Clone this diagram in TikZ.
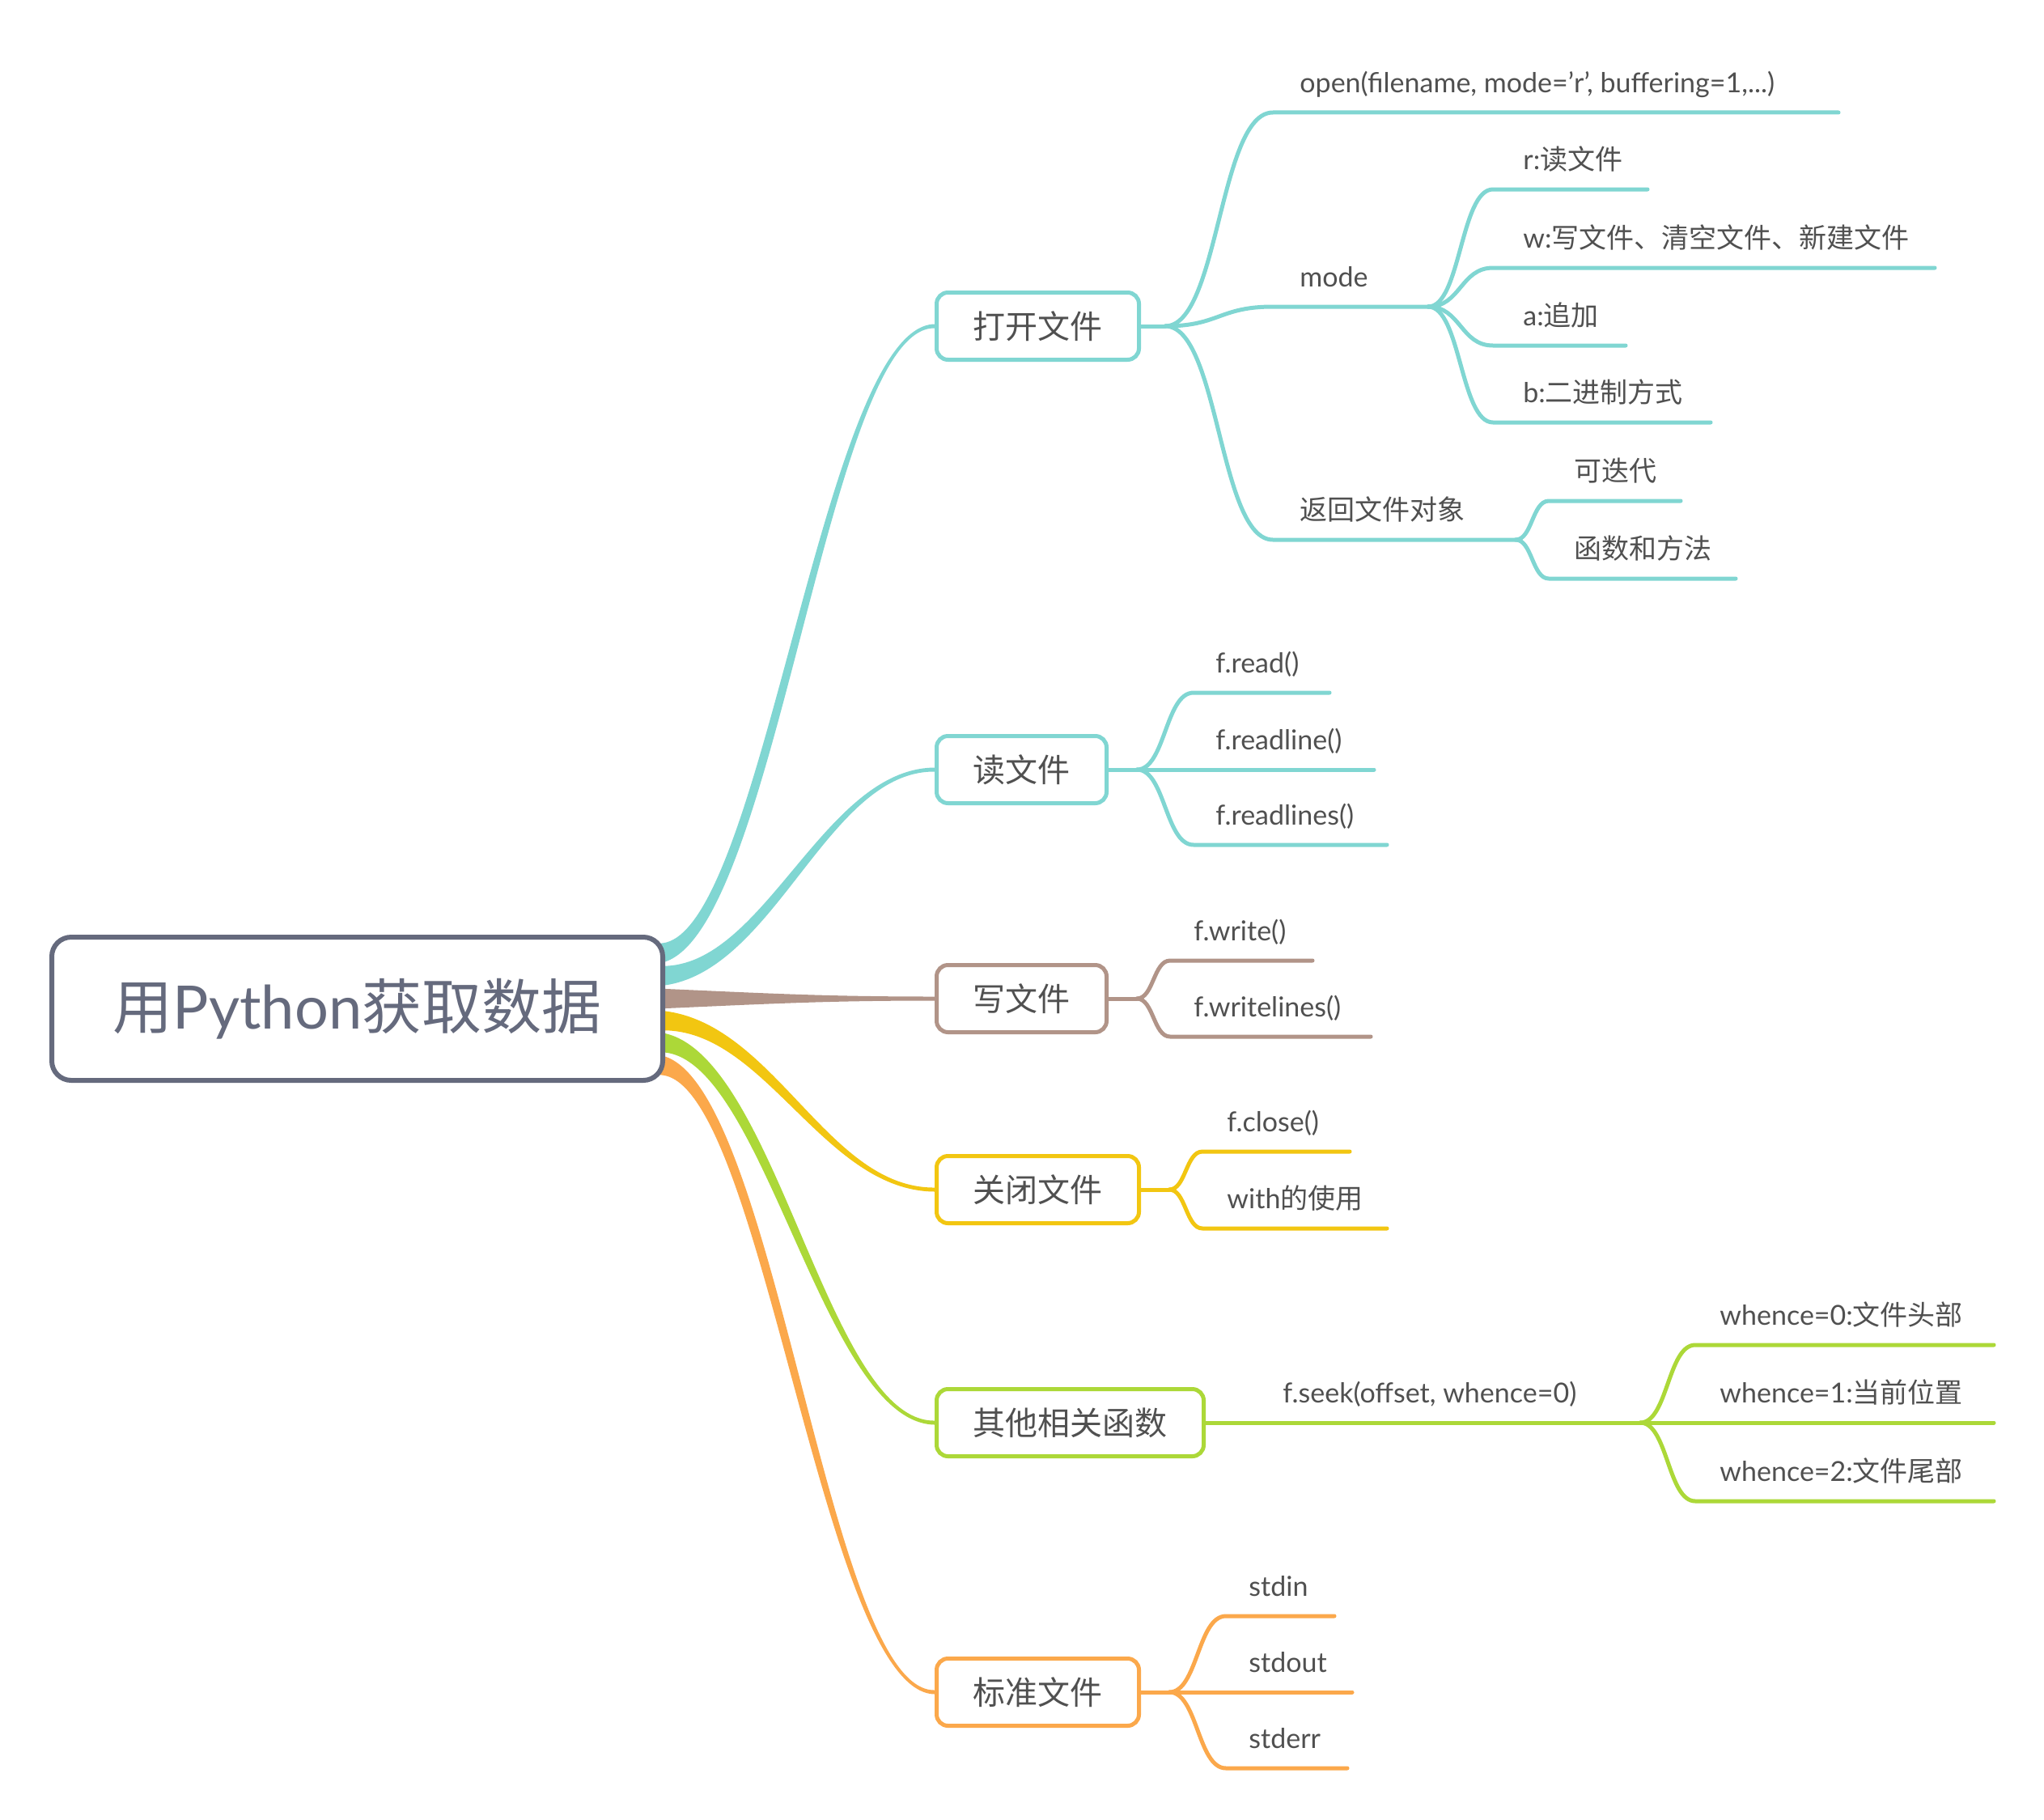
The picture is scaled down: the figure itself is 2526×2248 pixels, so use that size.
\documentclass[tikz,border=0pt]{standalone}
\usepackage{fontspec}
\setmainfont{Lato}
\newfontfamily\cjk{Noto Sans CJK SC}
\usetikzlibrary{calc}
\definecolor{cTeal}{HTML}{80D6D2}
\definecolor{cBrown}{HTML}{B19488}
\definecolor{cYellow}{HTML}{F2C611}
\definecolor{cGreen}{HTML}{ACD838}
\definecolor{cOrange}{HTML}{FBA84B}
\definecolor{cMain}{HTML}{656A7D}
\definecolor{cText}{HTML}{505050}
\pgfdeclarelayer{bg}
\pgfsetlayers{bg,main}
\tikzset{
  mainbox/.style={draw=cMain, line width=3pt, rounded corners=12pt, fill=white, text=cMain,
    font=\fontsize{37}{44}\selectfont, minimum width=377.5pt, minimum height=88.5pt, inner sep=0pt},
  topic/.style={draw=#1, line width=2.5pt, rounded corners=7pt, fill=white, text=cText,
    font=\fontsize{20}{24}\selectfont\cjk, minimum height=41.5pt, inner sep=0pt},
  leaf/.style={anchor=base west, text=cText, font=\fontsize{17}{20}\selectfont, inner sep=0pt},
  br/.style={draw=#1, line width=2.5pt, line cap=round, line join=round},
}
% tapered main branch: #1 colour, #2 from, #3 to, #4 half width start, #5 half width end
\newcommand\taper[5]{%
  \fill[#1] let \p1=(#2), \p2=(#3),
    \n1={atan2(\y2-\y1,0.6*(\x2-\x1))},
    \n2={-4/3*sin(\n1)}, \n3={4/3*cos(\n1)-1/3},
    \n4={0.4*(\x2-\x1)}, \n5={0.4*#4+0.6*#5}
  in (\x1,{\y1+#4})
    .. controls ({\x1+\n4+\n2*\n5},{\y1+\n3*\n5}) and ({\x2-\n4+\n2*#5},{\y2+\n3*#5}) .. (\x2,{\y2+#5})
    -- (\x2,{\y2-#5})
    .. controls ({\x2-\n4-\n2*#5},{\y2-\n3*#5}) and ({\x1+\n4-\n2*\n5},{\y1-\n3*\n5}) .. (\x1,{\y1-#4}) -- cycle;}
% sub branch: #1 colour, #2 fork, #3 underline start, #4 underline end
\newcommand\leafline[4]{%
  \draw[br=#1] let \p1=(#2), \p2=(#3), \n1={0.5*(\x2-\x1)} in
    (\p1) .. controls ({\x1+\n1},\y1) and ({\x2-\n1},\y2) .. (\p2) -- (#4);}
\begin{document}
\begin{tikzpicture}[x=0.5pt, y=-0.5pt]
\useasboundingbox (0,0) rectangle (2526,2248);

% ---------- nodes ----------
\node[mainbox] (root) at (441.5,1246.5) {{\cjk 用}Python{\cjk 获取数据}};
\node[topic=cTeal, minimum width=125pt] (b1) at (1282.5,403) {打开文件};
\node[topic=cTeal, minimum width=105pt] (b2) at (1262.5,951) {读文件};
\node[topic=cBrown, minimum width=105pt] (b3) at (1262.5,1234) {写文件};
\node[topic=cYellow, minimum width=125pt] (b4) at (1282.5,1470) {关闭文件};
\node[topic=cGreen, minimum width=165pt] (b5) at (1322.5,1758) {其他相关函数};
\node[topic=cOrange, minimum width=125pt] (b6) at (1282.5,2091) {标准文件};

% leaf texts
\node[leaf] (t-open) at (1606,114) {open(filename, mode=’r’, buffering=1,...)};
\node[leaf] (t-mode) at (1606,354) {mode};
\node[leaf] (t-ret) at (1606,642) {\cjk 返回文件对象};
\node[leaf] (t-r) at (1882,209) {r:{\cjk 读文件}};
\node[leaf] (t-w) at (1882,306) {w:{\cjk 写文件、清空文件、新建文件}};
\node[leaf] (t-a) at (1882,402) {a:{\cjk 追加}};
\node[leaf] (t-b) at (1882,497) {b:{\cjk 二进制方式}};
\node[leaf] (t-it) at (1945,594) {\cjk 可迭代};
\node[leaf] (t-fm) at (1945,690) {\cjk 函数和方法};
\node[leaf] (t-read) at (1502,831) {f.read()};
\node[leaf] (t-readline) at (1502,926) {f.readline()};
\node[leaf] (t-readlines) at (1502,1019) {f.readlines()};
\node[leaf] (t-write) at (1475,1162) {f.write()};
\node[leaf] (t-writelines) at (1475,1256) {f.writelines()};
\node[leaf] (t-close) at (1516,1398) {f.close()};
\node[leaf] (t-with) at (1516,1493) {with{\cjk 的使用}};
\node[leaf] (t-seek) at (1585,1733) {f.seek(offset, whence=0)};
\node[leaf] (t-w0) at (2125,1637) {whence=0:{\cjk 文件头部}};
\node[leaf] (t-w1) at (2125,1733) {whence=1:{\cjk 当前位置}};
\node[leaf] (t-w2) at (2125,1830) {whence=2:{\cjk 文件尾部}};
\node[leaf] (t-stdin) at (1543,1972) {stdin};
\node[leaf] (t-stdout) at (1543,2066) {stdout};
\node[leaf] (t-stderr) at (1543,2160) {stderr};

% ---------- coordinates ----------
\coordinate (s1) at (812,1178);
\coordinate (s2) at (812,1206);
\coordinate (s3) at (812,1234);
\coordinate (s4) at (812,1261);
\coordinate (s5) at (812,1288);
\coordinate (s6) at (812,1316);

\coordinate (f1) at (1440,403);
\coordinate (open-s) at (1573,139); \coordinate (open-e) at (2272,139);
\coordinate (mode-s) at (1573,379); \coordinate (mode-e) at (1765,379);
\coordinate (ret-s) at (1573,667);  \coordinate (ret-e) at (1873,667);
\coordinate (r-s) at (1845,234); \coordinate (r-e) at (2036,234);
\coordinate (w-s) at (1845,331); \coordinate (w-e) at (2391,331);
\coordinate (a-s) at (1845,427); \coordinate (a-e) at (2009,427);
\coordinate (b-s) at (1845,522); \coordinate (b-e) at (2114,522);
\coordinate (it-s) at (1914,619); \coordinate (it-e) at (2077,619);
\coordinate (fm-s) at (1914,715); \coordinate (fm-e) at (2145,715);

\coordinate (f2) at (1405,951);
\coordinate (read-s) at (1475,856); \coordinate (read-e) at (1643,856);
\coordinate (readline-s) at (1475,951); \coordinate (readline-e) at (1698,951);
\coordinate (readlines-s) at (1475,1044); \coordinate (readlines-e) at (1714,1044);

\coordinate (f3) at (1405,1234);
\coordinate (write-s) at (1446,1187); \coordinate (write-e) at (1622,1187);
\coordinate (writelines-s) at (1446,1281); \coordinate (writelines-e) at (1694,1281);

\coordinate (f4) at (1445,1470);
\coordinate (close-s) at (1486,1423); \coordinate (close-e) at (1668,1423);
\coordinate (with-s) at (1486,1518); \coordinate (with-e) at (1714,1518);

\coordinate (f5) at (2027,1758);
\coordinate (w0-s) at (2095,1662); \coordinate (w0-e) at (2464,1662);
\coordinate (w1-s) at (2095,1758); \coordinate (w1-e) at (2464,1758);
\coordinate (w2-s) at (2095,1855); \coordinate (w2-e) at (2464,1855);

\coordinate (f6) at (1445,2091);
\coordinate (stdin-s) at (1515,1997); \coordinate (stdin-e) at (1649,1997);
\coordinate (stdout-s) at (1515,2091); \coordinate (stdout-e) at (1671,2091);
\coordinate (stderr-s) at (1515,2185); \coordinate (stderr-e) at (1665,2185);

% ---------- connectors ----------
\begin{pgfonlayer}{bg}
\fill[white] (0,0) rectangle (2526,2248);
\taper{cTeal}{s1}{b1.west}{6.25pt}{1.25pt}
\taper{cTeal}{s2}{b2.west}{6.25pt}{1.25pt}
\taper{cBrown}{s3}{b3.west}{6.25pt}{1.25pt}
\taper{cYellow}{s4}{b4.west}{6.25pt}{1.25pt}
\taper{cGreen}{s5}{b5.west}{6.25pt}{1.25pt}
\taper{cOrange}{s6}{b6.west}{6.25pt}{1.25pt}

\draw[br=cTeal] (b1.east) -- (f1);
\leafline{cTeal}{f1}{open-s}{open-e}
\leafline{cTeal}{f1}{mode-s}{mode-e}
\leafline{cTeal}{f1}{ret-s}{ret-e}
\leafline{cTeal}{mode-e}{r-s}{r-e}
\leafline{cTeal}{mode-e}{w-s}{w-e}
\leafline{cTeal}{mode-e}{a-s}{a-e}
\leafline{cTeal}{mode-e}{b-s}{b-e}
\leafline{cTeal}{ret-e}{it-s}{it-e}
\leafline{cTeal}{ret-e}{fm-s}{fm-e}

\draw[br=cTeal] (b2.east) -- (f2);
\leafline{cTeal}{f2}{read-s}{read-e}
\leafline{cTeal}{f2}{readline-s}{readline-e}
\leafline{cTeal}{f2}{readlines-s}{readlines-e}

\draw[br=cBrown] (b3.east) -- (f3);
\leafline{cBrown}{f3}{write-s}{write-e}
\leafline{cBrown}{f3}{writelines-s}{writelines-e}

\draw[br=cYellow] (b4.east) -- (f4);
\leafline{cYellow}{f4}{close-s}{close-e}
\leafline{cYellow}{f4}{with-s}{with-e}

\draw[br=cGreen] (b5.east) -- (f5);
\leafline{cGreen}{f5}{w0-s}{w0-e}
\leafline{cGreen}{f5}{w1-s}{w1-e}
\leafline{cGreen}{f5}{w2-s}{w2-e}

\draw[br=cOrange] (b6.east) -- (f6);
\leafline{cOrange}{f6}{stdin-s}{stdin-e}
\leafline{cOrange}{f6}{stdout-s}{stdout-e}
\leafline{cOrange}{f6}{stderr-s}{stderr-e}
\end{pgfonlayer}
\end{tikzpicture}
\end{document}
